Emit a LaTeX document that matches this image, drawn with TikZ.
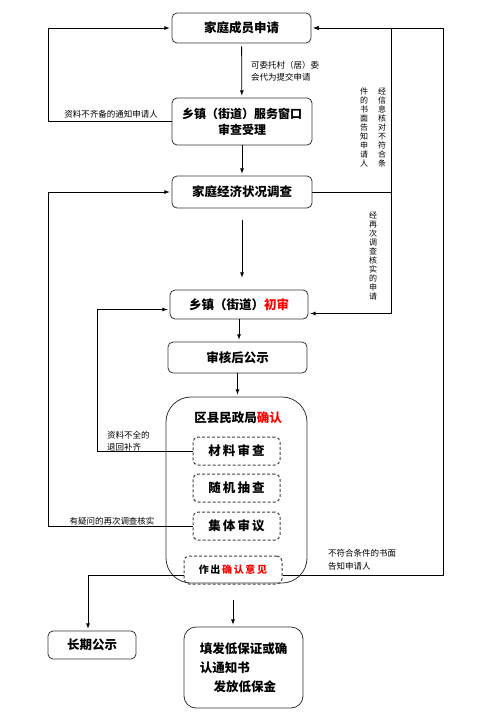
\documentclass[tikz,border=0pt]{standalone}
\usepackage{fontspec}
\setmainfont{Noto Sans CJK SC}
\usepackage{xcolor}
\usetikzlibrary{arrows,positioning}

\begin{document}
\begin{tikzpicture}[x=1pt,y=-1pt,
  box/.style={draw=black!80,rounded corners=5pt,line width=0.8pt,align=center,font=\bfseries\fontsize{12.5}{16}\selectfont},
  dbox/.style={draw=black!75,dash pattern=on 3pt off 2pt,rounded corners=5pt,line width=1pt,minimum width=87pt,minimum height=28pt,font=\bfseries\fontsize{12.5}{14}\selectfont},
  lab/.style={font=\fontsize{8.5}{12.5}\selectfont,align=left,inner sep=1pt},
  vlab/.style={font=\fontsize{8}{9}\selectfont,align=center,inner sep=0pt},
  arr/.style={-latex,line width=0.8pt,shorten >=2pt}]
\useasboundingbox (0,0) rectangle (482,726);

%Step 1
\node[box,minimum width=139pt,minimum height=30pt] (apply) at (241.5,28) {家庭成员申请};
\node[box,minimum width=140pt,minimum height=47pt,font=\bfseries\fontsize{12}{16}\selectfont] (window) at (242,121.5) {乡镇（街道）服务窗口\\审查受理};
\node[box,minimum width=140pt,minimum height=32pt] (survey) at (242,192) {家庭经济状况调查};
\node[box,minimum width=138pt,minimum height=29pt] (first) at (239,304.5) {乡镇（街道）\textcolor{red}{初审}};
\node[box,minimum width=139pt,minimum height=31pt] (notice) at (237.5,357.5) {审核后公示};

%Step 2
\node[draw=black!80,line width=0.8pt,rounded corners=25pt,minimum width=141pt,minimum height=186pt] (big) at (236.5,490) {};
\node[font=\bfseries\fontsize{12.5}{15}\selectfont] (title) at (238,418) {区县民政局\textcolor{red}{确认}};
\node[dbox] (check) at (236.5,451) {材\,料\,审\,查};
\node[dbox] (random) at (236.5,488) {随\,机\,抽\,查};
\node[dbox] (group) at (236.5,526) {集\,体\,审\,议};
\node[dbox,minimum width=98pt,font=\bfseries\fontsize{10}{12}\selectfont] (opinion) at (233,570) {作\,出\,\textcolor{red}{确\,认\,意\,见}};

%Step 3
\node[box,minimum width=88pt,minimum height=28pt] (long) at (92,645) {长期公示};
\node[box,rounded corners=12pt,minimum width=119pt,minimum height=81pt,align=left,font=\bfseries\fontsize{12.5}{19}\selectfont] (issue) at (243.5,667.5) {填发低保证或确\\认通知书\\\hspace{1.1em}发放低保金};

\coordinate (lx) at (48,0);
\coordinate (mx) at (97,0);
\coordinate (rx) at (391,0);
\coordinate (ry) at (443,0);

%main arrows
\draw[arr,shorten <=3pt] (apply) -- (window);
\draw[arr] (window) -- (survey);
\draw[arr,shorten <=12pt,shorten >=12pt] (survey) -- (survey |- first.north);
\draw[arr] (first.south) -- (first.south |- notice.north);
\draw[arr] (notice.south) -- (notice.south |- big.north);
\draw[arr,shorten <=15pt] (opinion.south) -- (opinion.south |- issue.north);

%loops
\draw[arr] (window.west) -- (window.west -| lx) |- (apply);
\draw[arr] (group.west) -- (group.west -| lx) |- (survey);
\draw[arr] (check.west) -- (check.west -| mx) |- ([yshift=-5pt]first.west);
\draw[arr] ([yshift=-5pt]opinion.west) -| ([xshift=-4pt]long.north);
\draw[arr] ([yshift=-5pt]opinion.east) -- ([yshift=-5pt]opinion.east -| ry) |- (apply);
\draw[arr] (survey.east) -- (survey.east -| rx) |- (apply);
\draw[arr] (survey.east -| rx) |- ([yshift=-9pt]first.east);

%labels
\node[lab,anchor=west] (l1) at (250,71) {可委托村（居）委\\会代为提交申请};
\node[lab] (l2) at (111,114) {资料不齐备的通知申请人};
\node[lab,anchor=west] (l3) at (106,441) {资料不全的\\退回补齐};
\node[lab] (l4) at (112,521) {有疑问的再次调查核实};
\node[lab,anchor=west] (l5) at (327,560) {不符合条件的书面\\告知申请人};
\node[vlab] (v1) at (382,127) {经\\信\\息\\核\\对\\不\\符\\合\\条};
\node[vlab] (v2) at (364,127) {件\\的\\书\\面\\告\\知\\申\\请\\人};
\node[vlab] (v3) at (373,256) {经\\再\\次\\调\\查\\核\\实\\的\\申\\请};
\end{tikzpicture}
\end{document}
